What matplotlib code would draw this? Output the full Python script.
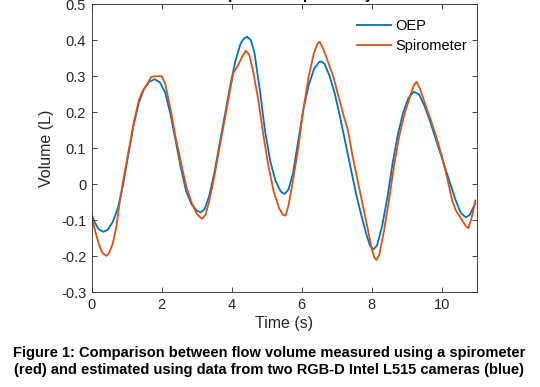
import matplotlib.pyplot as plt
import numpy as np

plt.rcParams['font.family'] = ['Liberation Sans', 'DejaVu Sans']
plt.rcParams['axes.unicode_minus'] = False

# OEP (blue) - volume
t_oep = [0.0, 0.1, 0.2, 0.33, 0.45, 0.6, 0.75, 0.9, 1.05, 1.2, 1.35, 1.5, 1.65, 1.8,
         1.95, 2.1, 2.25, 2.4, 2.55, 2.7, 2.85, 3.0, 3.11, 3.22, 3.35, 3.5, 3.65, 3.8,
         3.95, 4.1, 4.25, 4.35, 4.44, 4.55, 4.65, 4.8, 4.95, 5.1, 5.25, 5.4, 5.51, 5.62,
         5.75, 5.9, 6.05, 6.2, 6.35, 6.5, 6.56, 6.65, 6.8, 6.95, 7.1, 7.25, 7.4, 7.55,
         7.7, 7.85, 7.95, 8.05, 8.15, 8.3, 8.45, 8.6, 8.75, 8.9, 9.05, 9.2, 9.35, 9.5,
         9.65, 9.8, 9.95, 10.1, 10.25, 10.4, 10.55, 10.69, 10.8, 10.96]
v_oep = [-0.085, -0.108, -0.125, -0.132, -0.127, -0.105, -0.065, 0.0, 0.085, 0.165, 0.228, 0.266, 0.285, 0.292,
         0.283, 0.255, 0.195, 0.12, 0.045, -0.02, -0.055, -0.073, -0.078, -0.07, -0.035, 0.03, 0.11, 0.19,
         0.27, 0.34, 0.39, 0.405, 0.41, 0.4, 0.365, 0.265, 0.15, 0.065, 0.01, -0.02, -0.027, -0.015,
         0.03, 0.12, 0.21, 0.275, 0.32, 0.34, 0.341, 0.335, 0.30, 0.25, 0.185, 0.115, 0.045, -0.025,
         -0.085, -0.14, -0.17, -0.181, -0.17, -0.115, -0.035, 0.06, 0.14, 0.2, 0.24, 0.257, 0.25, 0.22,
         0.18, 0.135, 0.09, 0.045, 0.0, -0.045, -0.08, -0.092, -0.085, -0.053]

# Spirometer (red)
t_spi = [0.0, 0.1, 0.2, 0.3, 0.42, 0.5, 0.6, 0.7, 0.8, 0.9, 1.05, 1.2, 1.35, 1.45, 1.55,
         1.7, 1.8, 2.0, 2.1, 2.25, 2.4, 2.55, 2.7, 2.85, 3.0, 3.15, 3.25, 3.35, 3.5, 3.65,
         3.8, 3.95, 4.05, 4.18, 4.3, 4.4, 4.5, 4.6, 4.75, 4.9, 5.05, 5.2, 5.35, 5.46, 5.54,
         5.62, 5.75, 5.9, 6.05, 6.2, 6.35, 6.45, 6.51, 6.6, 6.75, 6.9, 7.05, 7.2, 7.32, 7.45,
         7.6, 7.75, 7.9, 8.0, 8.08, 8.14, 8.22, 8.35, 8.5, 8.65, 8.8, 8.95, 9.1, 9.2, 9.28,
         9.38, 9.55, 9.7, 9.85, 10.0, 10.15, 10.3, 10.4, 10.55, 10.68, 10.76, 10.85, 10.96]
v_spi = [-0.09, -0.13, -0.165, -0.19, -0.199, -0.19, -0.165, -0.12, -0.05, 0.01, 0.09, 0.17, 0.235, 0.258, 0.272,
         0.298, 0.3, 0.3, 0.28, 0.21, 0.13, 0.06, -0.005, -0.05, -0.082, -0.096, -0.085, -0.05, 0.02, 0.1,
         0.18, 0.26, 0.31, 0.33, 0.355, 0.371, 0.36, 0.32, 0.24, 0.14, 0.05, -0.02, -0.065, -0.085, -0.087,
         -0.06, 0.01, 0.1, 0.21, 0.3, 0.365, 0.39, 0.396, 0.38, 0.341, 0.3, 0.245, 0.19, 0.151, 0.08,
         0.01, -0.06, -0.13, -0.18, -0.205, -0.21, -0.195, -0.13, -0.04, 0.06, 0.14, 0.2, 0.245, 0.275, 0.285,
         0.265, 0.216, 0.175, 0.13, 0.08, 0.02, -0.045, -0.072, -0.095, -0.115, -0.122, -0.095, -0.045]

xticks = [0, 2, 4, 6, 8, 10]
yticks = [-0.3, -0.2, -0.1, 0, 0.1, 0.2, 0.3, 0.4, 0.5]
yticklabels = ['-0.3', '-0.2', '-0.1', '0', '0.1', '0.2', '0.3', '0.4', '0.5']

fig = plt.figure(figsize=(5.4, 3.87), dpi=100)
ax = fig.add_axes([0.1698, 0.2447, 0.713, 0.7442])

ax.plot(t_oep, v_oep, color='#0072BD', lw=1.3, label='OEP')
ax.plot(t_spi, v_spi, color='#D95319', lw=1.3, label='Spirometer')

ax.set_xlim(0, 11)
ax.set_ylim(-0.3, 0.5)
ax.set_xticks(xticks)
ax.set_yticks(yticks)
ax.set_yticklabels(yticklabels)
ax.tick_params(direction='in', length=3.5, width=0.6, top=True, right=True,
               labelsize=10.5, colors='#262626', pad=4)
for s in ax.spines.values():
    s.set_color('#262626')
    s.set_linewidth(0.6)

ax.set_xlabel('Time (s)', fontsize=11.5, color='#262626', labelpad=3)
ax.set_ylabel('Volume (L)', fontsize=11.5, color='#262626', labelpad=5)

ax.legend(loc='upper right', frameon=False, fontsize=10.5, handlelength=2.3,
          handletextpad=0.3, labelspacing=0.45, borderaxespad=0.0,
          bbox_to_anchor=(0.99, 0.97))

# title mostly cut off by the top of the image, only descenders show
fig.text(0.526, 1 + 0.6 / 387, 'Comparison: Spirometry', ha='center', va='baseline',
         fontsize=11, fontweight='bold', color='#000000')

fig.text(0.498, 1 - 361.5 / 387,
         'Figure 1: Comparison between flow volume measured using a spirometer\n'
         '(red) and estimated using data from two RGB-D Intel L515 cameras (blue)',
         ha='center', va='center', fontsize=10.5, fontweight='bold', linespacing=1.35)

fig.savefig('out.png', dpi=100)
